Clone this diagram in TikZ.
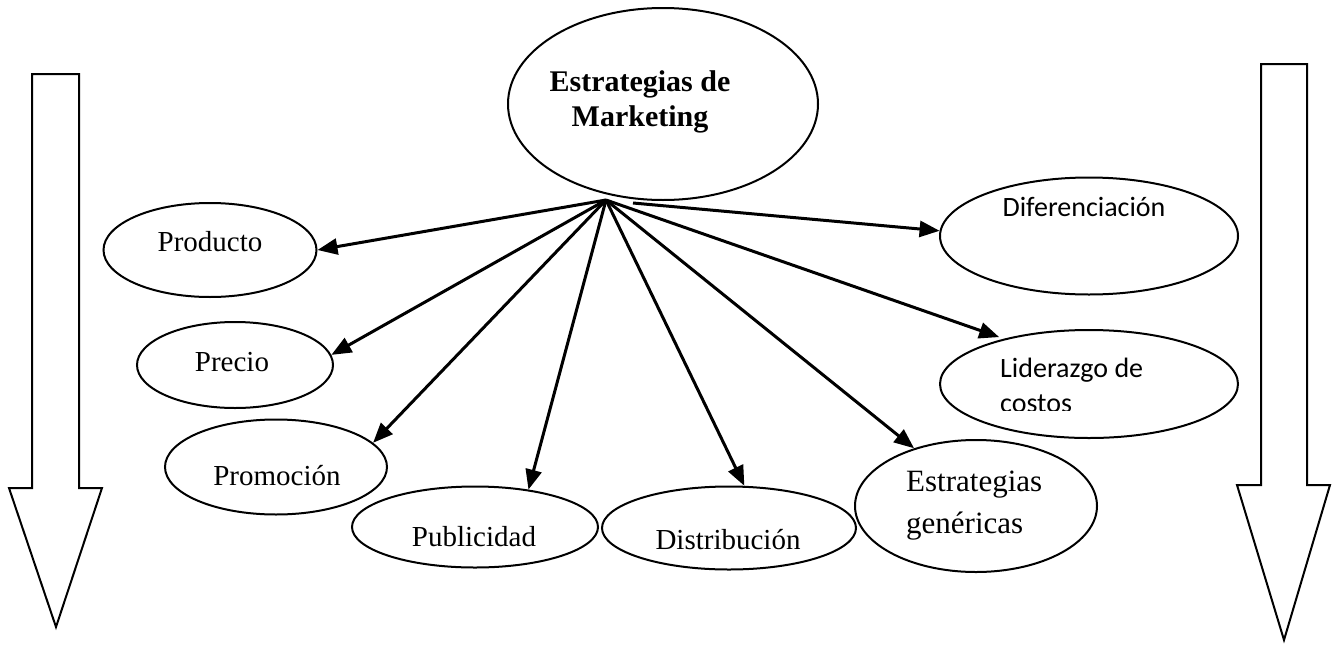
\documentclass[tikz,border=0pt]{standalone}
\usepackage{fontspec}
\setmainfont{Liberation Serif}
\newfontfamily\calibri{Carlito}
\usetikzlibrary{shapes.geometric,arrows.meta}
\begin{document}
\begin{tikzpicture}[x=1pt,y=-1pt,
  oval/.style={ellipse,draw,line width=2pt,inner sep=0pt},
  lbl/.style={font=\fontsize{29}{34}\selectfont,inner sep=0pt},
  sanslbl/.style={font=\calibri\fontsize{28}{35}\selectfont,inner sep=0pt},
  link/.style={line width=3pt,-{Triangle[length=20pt,width=16pt]}},
  bigarrow/.style={draw,line width=2pt,line join=miter}]
\useasboundingbox[fill=white] (0,0) rectangle (1336,664);

% central concept
\node[oval,minimum width=310pt,minimum height=192pt] (top) at (663,104) {};
\node[lbl,font=\fontsize{30}{35}\selectfont\bfseries,align=center] (tTop) at (640,102) {Estrategias de\\Marketing};

% marketing mix
\node[oval,minimum width=213pt,minimum height=94pt] (prod) at (210,250) {};
\node[lbl] (tProd) at (210,242) {Producto};
\node[oval,minimum width=196pt,minimum height=86pt] (prec) at (235,365) {};
\node[lbl] (tPrec) at (232,362) {Precio};
\node[oval,minimum width=222pt,minimum height=95pt] (prom) at (276,467) {};
\node[lbl] (tProm) at (277,476) {Promoción};
\node[oval,minimum width=246pt,minimum height=81pt] (publ) at (475,527) {};
\node[lbl] (tPubl) at (474,537) {Publicidad};
\node[oval,minimum width=254pt,minimum height=83pt] (dist) at (729,528) {};
\node[lbl] (tDist) at (728,540) {Distribución};

% generic strategies
\node[oval,minimum width=242pt,minimum height=132pt] (gen) at (976,506) {};
\node[lbl,font=\fontsize{31}{42}\selectfont,align=left,anchor=west] (tGen) at (906,506) {Estrategias\\genéricas};
\node[oval,minimum width=298pt,minimum height=117pt] (dif) at (1089,236) {};
\node[sanslbl] (tDif) at (1084,207) {Diferenciación};
\node[oval,minimum width=298pt,minimum height=108pt] (lid) at (1089,384) {};
\begin{scope}
  \clip (940,300) rectangle (1240,410.5);
  \node[sanslbl,align=left,anchor=west] (tLid) at (1000,385) {Liderazgo de\\costos};
\end{scope}

% connectors
\coordinate (hub) at (606,200);
\coordinate (hubR) at (633,203);
\draw[link] (hub) -- (prod.east);
\draw[link] (hub) -- (prec.6);
\draw[link] (hub) -- (prom.14);
\draw[link] (hub) -- (publ.35);
\draw[link] (hub) -- (dist.70);
\draw[link] (hub) -- (gen.137);
\draw[link,shorten >=5pt] (hub) -- (lid.152);
\draw[link] (hubR) -- (dif.178);

% block arrows at both sides
\draw[bigarrow] (32,74) -- (79,74) -- (79,488) -- (102,488) -- (56,627) -- (9,488) -- (32,488) -- cycle;
\draw[bigarrow] (1261,64) -- (1307,64) -- (1307,485) -- (1330,485) -- (1284,640) -- (1237,485) -- (1261,485) -- cycle;
\end{tikzpicture}
\end{document}
